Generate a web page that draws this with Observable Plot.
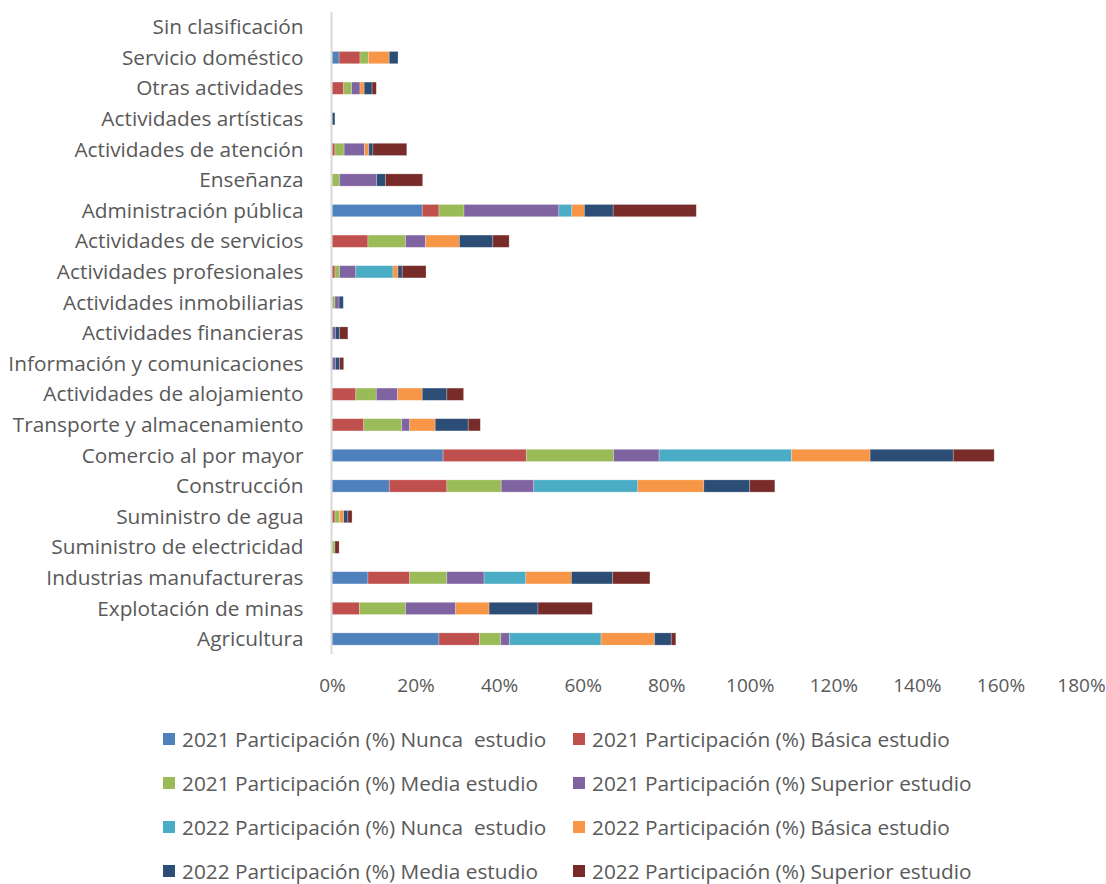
<!DOCTYPE html>
<html>
<head>
<meta charset="utf-8">
<script src="https://cdn.jsdelivr.net/npm/d3@7"></script>
<script src="https://cdn.jsdelivr.net/npm/@observablehq/plot@0.6"></script>
<style>
  html, body { margin: 0; padding: 0; background: #fff; }
  body { width: 1106px; height: 884px; overflow: hidden; font-family: "Open Sans", sans-serif; }
  #legend { display: grid; grid-template-columns: 410px 410px; padding-left: 163px; margin-top: 17px; }
  .item { height: 44px; display: flex; align-items: center; font-size: 20.8px; color: #595959; white-space: pre; }
  .sw { width: 12px; height: 12px; margin-right: 7px; flex: none; }
</style>
</head>
<body>
<div id="chart"></div>
<div id="legend"></div>
<script>
const categories = [
  "Sin clasificación", "Servicio doméstico", "Otras actividades", "Actividades artísticas",
  "Actividades de atención", "Enseñanza", "Administración pública", "Actividades de servicios",
  "Actividades profesionales", "Actividades inmobiliarias", "Actividades financieras",
  "Información y comunicaciones", "Actividades de alojamiento", "Transporte y almacenamiento",
  "Comercio al por mayor", "Construcción", "Suministro de agua", "Suministro de electricidad",
  "Industrias manufactureras", "Explotación de minas", "Agricultura"
];
const seriesNames = [
  "2021 Participación (%) Nunca  estudio", "2021 Participación (%) Básica estudio",
  "2021 Participación (%) Media estudio", "2021 Participación (%) Superior estudio",
  "2022 Participación (%) Nunca  estudio", "2022 Participación (%) Básica estudio",
  "2022 Participación (%) Media estudio", "2022 Participación (%) Superior estudio"
];
const seriesColors = ["#4F81BD", "#C0504D", "#9BBB59", "#8064A2", "#4BACC6", "#F79646", "#2C4D75", "#772C2A"];

// values per series, in category order (%)
const nunca2021    = [0, 1.7, 0, 0, 0, 0, 21.6, 0, 0, 0, 0, 0, 0, 0, 26.6, 13.7, 0, 0, 8.6, 0, 25.6];
const basica2021   = [0, 5.0, 2.8, 0, 0.7, 0, 4.0, 8.6, 0.7, 0, 0, 0, 5.7, 7.6, 19.9, 13.8, 0.7, 0, 10.0, 6.6, 9.7];
const media2021    = [0, 2.0, 1.9, 0, 2.2, 1.8, 6.0, 9.0, 1.1, 0.7, 0, 0, 4.9, 9.1, 20.9, 13.0, 1.1, 0.7, 8.9, 11.0, 5.1];
const superior2021 = [0, 0, 2.0, 0, 4.9, 8.9, 22.7, 4.8, 3.9, 1.0, 0.8, 0.8, 5.1, 1.9, 10.9, 7.8, 0, 0, 8.9, 12.0, 2.1];
const nunca2022    = [0, 0, 0, 0, 0, 0, 3.1, 0, 8.9, 0, 0, 0, 0, 0, 31.7, 24.9, 0, 0, 10.0, 0, 21.9];
const basica2022   = [0, 5.0, 1.0, 0, 1.0, 0, 3.0, 8.1, 1.2, 0, 0, 0, 5.9, 6.1, 18.8, 15.8, 1.0, 0, 10.9, 8.0, 12.8];
const media2022    = [0, 2.1, 1.9, 0.7, 1.0, 2.1, 6.9, 8.0, 1.0, 1.0, 1.0, 1.0, 5.9, 7.9, 19.9, 11.0, 1.0, 0, 9.9, 11.7, 4.0];
const superior2022 = [0, 0, 1.0, 0, 8.1, 8.9, 19.9, 3.9, 5.7, 0, 2.0, 1.0, 4.0, 2.9, 9.8, 6.0, 1.0, 1.0, 8.9, 13.0, 1.1];
const xTicks = [0, 20, 40, 60, 80, 100, 120, 140, 160, 180];

const seriesValues = [nunca2021, basica2021, media2021, superior2021, nunca2022, basica2022, media2022, superior2022];
const data = [];
seriesNames.forEach((s, si) => {
  categories.forEach((c, ci) => {
    data.push({ cat: c, series: s, value: seriesValues[si][ci] });
  });
});

const lastTick = xTicks[xTicks.length - 1];
const chart = Plot.plot({
  width: 1106,
  height: 700,
  marginLeft: 332,
  marginRight: 22,
  marginTop: 12,
  marginBottom: 46,
  style: { fontFamily: "Open Sans, sans-serif", fontSize: "20.8px", color: "#595959", background: "#fff" },
  x: { domain: [0, 180], ticks: xTicks, tickFormat: d => d + "%", label: null },
  y: { domain: categories, paddingInner: 0.6, paddingOuter: 0.29, round: false, label: null },
  color: { domain: seriesNames, range: seriesColors },
  marks: [
    Plot.barX(data, Plot.stackX({ x: "value", y: "cat", fill: "series", order: null, stroke: "white", strokeOpacity: 0.35, strokeWidth: 0.7 })),
    Plot.ruleX([0], { stroke: "#d9d9d9", strokeWidth: 2, dx: -1 }),
    Plot.axisX({ ticks: xTicks.slice(0, -1), tickFormat: d => d + "%", tickSize: 0, tickPadding: 24, label: null, fill: "#595959", fontSize: 19 }),
    Plot.axisX({ ticks: [lastTick], tickFormat: d => d + "%", tickSize: 0, tickPadding: 24, label: null, fill: "#595959", fontSize: 19, dx: -3 }),
    Plot.axisY({ tickSize: 0, tickPadding: 29, label: null, fill: "#595959", fontSize: 20.8 })
  ]
});
document.getElementById("chart").appendChild(chart);

const legend = document.getElementById("legend");
seriesNames.forEach((s, i) => {
  const it = document.createElement("div");
  it.className = "item";
  const sw = document.createElement("span");
  sw.className = "sw";
  sw.style.background = seriesColors[i];
  const tx = document.createElement("span");
  tx.textContent = s;
  it.appendChild(sw);
  it.appendChild(tx);
  legend.appendChild(it);
});
</script>
</body>
</html>
